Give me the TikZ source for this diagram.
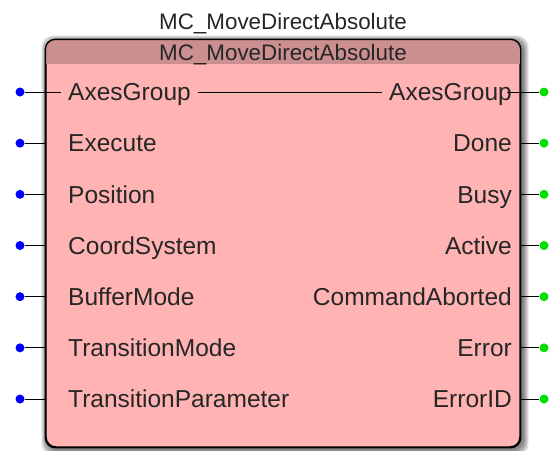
\documentclass[tikz,border=0pt]{standalone}
\usepackage{fontspec}
\setmainfont{Liberation Sans}
\usetikzlibrary{calc,backgrounds}

\definecolor{fbbody}{RGB}{255,179,179}
\definecolor{fbhead}{RGB}{204,143,143}
\definecolor{pinin}{RGB}{0,0,255}
\definecolor{pinout}{RGB}{0,224,0}

\begin{document}
\begin{tikzpicture}[
  x=1pt, y=-1pt,
  fblock/.style={draw=black, line width=1.4pt, fill=fbbody, rounded corners=10pt,
    minimum width=474pt, minimum height=407pt, inner sep=0pt},
  pinIn/.style={circle, fill=pinin, inner sep=0pt, minimum size=9pt},
  pinOut/.style={circle, fill=pinout, inner sep=0pt, minimum size=9pt},
  lbl/.style={font=\fontsize{24.5}{29}\selectfont, text=black!85, inner sep=7pt},
  ttl/.style={font=\fontsize{22.4}{27}\selectfont, text=black!85, inner sep=0pt},
  wire/.style={line width=1pt, black},
]
\useasboundingbox (0,0) rectangle (549,450);

% ====== Function block ======
\node[fblock] (fb) at (283,243.5) {};
\begin{scope}
  \clip[rounded corners=10pt] (fb.north west) rectangle (fb.south east);
  \fill[fbhead] (fb.north west) rectangle ($(fb.north east)+(0,25)$);
\end{scope}
\draw[line width=1.4pt, rounded corners=10pt] (fb.north west) rectangle (fb.south east);
\begin{scope}[on background layer]
  \foreach \s in {1,...,6}
    \fill[black, opacity=0.1, rounded corners=12pt]
      ($(fb.north west)+(2-\s,2-\s)$) rectangle ($(fb.south east)+(2+\s,2+\s)$);
\end{scope}

% ====== Names ======
\node[ttl, anchor=base] (instname) at (283,29) {MC\_MoveDirectAbsolute};
\node[ttl, anchor=base] (fbname) at (283,60) {MC\_MoveDirectAbsolute};

% ====== Inputs ======
\foreach \name/\txt [count=\i from 0] in {AxesIn/AxesGroup, Exec/Execute, Pos/Position,
    Coord/CoordSystem, Buf/BufferMode, Trans/TransitionMode, TPar/TransitionParameter} {
  \pgfmathsetmacro\ry{92+51.17*\i}
  \node[pinIn] (in\name) at (20,\ry) {};
  \node[lbl, anchor=base west] (lbl\name) at (61,\ry+8.8) {\txt};
  \ifnum\i>0 \draw[wire] (in\name.east) -- (in\name -| fb.west); \fi
}

% ====== Outputs ======
\foreach \name/\txt [count=\i from 0] in {AxesOut/AxesGroup, Done/Done, Busy/Busy,
    Active/Active, CmdAbt/CommandAborted, Err/Error, ErrID/ErrorID} {
  \pgfmathsetmacro\ry{92+51.17*\i}
  \node[pinOut] (out\name) at (544,\ry) {};
  \node[lbl, anchor=base east] (lbl\name) at (519,\ry+8.8) {\txt};
  \ifnum\i>0 \draw[wire] (out\name -| fb.east) -- (out\name.west); \fi
}

% ====== In-out axes group ======
\draw[wire] (inAxesIn.east) -- (inAxesIn -| lblAxesIn.west);
\draw[wire] ($(outAxesOut -| lblAxesOut.east)+(-12,0)$) -- (outAxesOut.west);
\draw[wire] (lblAxesIn.east |- inAxesIn) -- (lblAxesOut.west |- inAxesIn);

\end{tikzpicture}
\end{document}
